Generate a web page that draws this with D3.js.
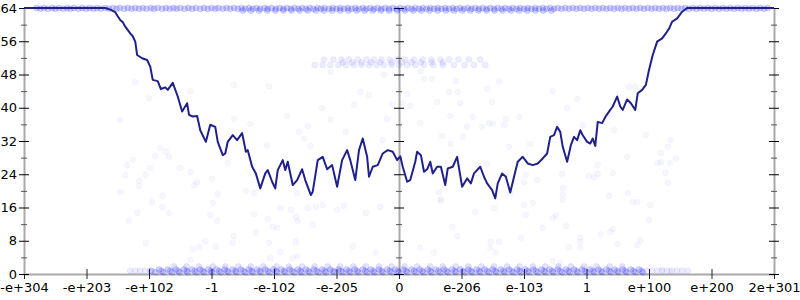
<!DOCTYPE html>
<html>
<head>
<meta charset="utf-8">
<script src="https://cdn.jsdelivr.net/npm/d3@7"></script>
<style>
  body { margin: 0; background: #fff; }
  svg { display: block; }
  .axis text { font-family: 'DejaVu Sans', sans-serif; font-size: 13px; fill: #000; }
  .axis .domain { stroke: #aaa; stroke-width: 2; }
</style>
</head>
<body>
<div id="chart"></div>
<script>
// tick labels along the float ordering (one label per tick slot, -6 .. 6)
const xTickLabels = ['-e+304', '-e+203', '-e+102', '-1', '-e-102', '-e-205', '0',
  'e-206', 'e-103', '1', 'e+100', 'e+200', '2e+301'];
const yMajorTicks = [0, 8, 16, 24, 32, 40, 48, 56, 64];
const yMinorTicks = [4, 12, 20, 28, 36, 44, 52, 60];

// main series: [position, value]
const lineValues = [
  [-6, 64], [-4.70, 64], [-4.62, 63.6], [-4.54, 63.0], [-4.50, 62.0], [-4.46, 61.1], [-4.42, 60.6],
  [-4.38, 59.5], [-4.30, 57.9], [-4.26, 57.2], [-4.22, 55.9], [-4.19, 52.7], [-4.11, 51.9], [-4.03, 51.5],
  [-3.98, 49.9], [-3.94, 46.7], [-3.86, 46.4], [-3.81, 44.5],
  [-3.74, 44.9], [-3.70, 44.3], [-3.62, 46.0], [-3.54, 42.7], [-3.47, 39.1], [-3.39, 41.1], [-3.36, 38.3],
  [-3.30, 37.9], [-3.23, 38.0], [-3.18, 34.6], [-3.09, 31.8], [-3.02, 35.9], [-2.94, 35.4], [-2.90, 31.8],
  [-2.82, 28.6], [-2.78, 29.0], [-2.74, 31.8], [-2.66, 33.4], [-2.59, 32.2], [-2.51, 33.9], [-2.45, 29.4],
  [-2.42, 29.8], [-2.35, 25.8], [-2.29, 24.2], [-2.22, 20.6], [-2.14, 24.2], [-2.10, 25.0], [-2.03, 22.2],
  [-1.98, 20.6], [-1.94, 25.0], [-1.86, 27.4], [-1.82, 25.0], [-1.78, 27.0], [-1.70, 21.4], [-1.63, 22.6],
  [-1.55, 25.2], [-1.50, 22.6], [-1.41, 19.0], [-1.38, 19.8], [-1.30, 27.4], [-1.22, 28.2], [-1.15, 25.2],
  [-1.07, 26.2], [-0.99, 21.0], [-0.91, 27.4], [-0.83, 29.8], [-0.78, 27.4], [-0.70, 22.6], [-0.64, 29.8],
  [-0.58, 32.6], [-0.51, 28.2], [-0.48, 23.4], [-0.42, 25.8], [-0.34, 26.2], [-0.26, 29.0], [-0.18, 29.8],
  [-0.10, 29.4], [-0.03, 27.4], [0.02, 28.3], [0.06, 25.8], [0.13, 22.2], [0.18, 22.6], [0.26, 27.0],
  [0.29, 29.4], [0.35, 28.6], [0.40, 24.6], [0.45, 25.2], [0.50, 27.0], [0.54, 24.2], [0.61, 25.8],
  [0.67, 25.8], [0.74, 21.4], [0.78, 25.4], [0.86, 25.8], [0.93, 28.2], [1.01, 21.0], [1.09, 23.0],
  [1.15, 21.8], [1.20, 24.2], [1.30, 25.8], [1.36, 23.4], [1.41, 21.8], [1.49, 20.2], [1.54, 18.2],
  [1.58, 21.8], [1.65, 24.2], [1.71, 23.4], [1.78, 19.6], [1.86, 24.6], [1.90, 27.0], [1.98, 28.2],
  [2.06, 26.6], [2.14, 26.2], [2.22, 26.6], [2.30, 27.8], [2.37, 29.0], [2.42, 33.0], [2.48, 33.4],
  [2.53, 35.4], [2.58, 34.2], [2.62, 30.6], [2.69, 27.0], [2.75, 31.0], [2.80, 33.0], [2.85, 32.2],
  [2.90, 34.6], [2.94, 33.4], [3.01, 31.8], [3.06, 31.4], [3.10, 32.6], [3.14, 30.8], [3.18, 36.6],
  [3.25, 36.3], [3.31, 38.0], [3.38, 39.5], [3.42, 40.3], [3.49, 42.7], [3.54, 40.3], [3.58, 39.5],
  [3.65, 42.0], [3.71, 41.1], [3.78, 39.5], [3.82, 43.5], [3.89, 44.3], [3.95, 45.5], [4.00, 49.1],
  [4.06, 52.7], [4.13, 55.9], [4.21, 56.7], [4.27, 57.9], [4.32, 59.0], [4.37, 60.7], [4.45, 61.5],
  [4.53, 63.1], [4.61, 64], [6, 64]
];

// scattered samples: [position, value]
const scatterPoints = [
  [-4.22, 46.2], [-4.00, 42.3], [-3.34, 44.0], [-4.46, 37.1], [-4.26, 27.4], [-4.35, 26.2], [-4.38, 23.8],
  [-4.16, 22.4], [-4.16, 21.2], [-4.05, 23.8], [-3.98, 25.5], [-3.90, 28.4], [-3.82, 30.3], [-3.73, 29.4],
  [-3.68, 28.2], [-3.78, 18.8], [-4.45, 19.7], [-3.50, 25.5], [-3.33, 24.5], [-3.23, 22.1], [-3.28, 21.4],
  [-2.99, 22.9], [-2.90, 19.2], [-2.74, 26.7], [-2.64, 37.3], [-2.64, 45.5], [-2.45, 20.0], [-2.32, 19.5],
  [-2.38, 36.1], [-2.11, 31.0], [-2.08, 45.2], [-1.79, 38.0], [-1.60, 34.2], [-1.52, 32.5], [-1.46, 35.6],
  [-1.42, 30.8], [-1.23, 39.9], [-1.09, 37.1], [-1.09, 48.6], [-0.85, 34.2], [-0.72, 40.7], [-0.62, 43.8],
  [-0.48, 43.1], [-0.24, 47.9], [-0.19, 37.3], [-0.26, 32.2], [-0.10, 40.9], [-1.63, 19.5],
  [0.40, 46.9], [0.53, 46.9], [0.35, 48.8], [0.13, 43.3], [0.18, 40.4], [0.06, 41.1], [0.80, 43.8],
  [0.94, 43.8], [0.91, 46.4], [1.60, 46.4], [1.41, 44.5], [0.98, 41.1], [0.61, 41.4], [1.49, 41.4],
  [0.34, 36.3], [0.82, 38.0], [1.18, 37.8], [1.09, 35.4], [1.33, 35.4], [1.44, 36.3], [1.50, 36.1],
  [1.68, 35.8], [1.71, 37.3], [1.92, 37.8], [0.69, 33.2], [0.83, 31.3], [1.02, 33.0], [1.76, 30.6],
  [2.10, 31.3], [2.46, 44.0], [2.85, 42.1], [2.69, 39.9], [2.94, 35.8], [3.44, 34.6], [3.95, 33.4],
  [4.35, 32.2], [4.30, 30.6], [4.19, 29.1], [4.43, 27.7], [4.19, 26.9], [4.14, 26.7], [4.34, 26.7],
  [3.65, 28.2], [3.18, 26.2], [3.42, 24.3], [3.18, 24.1], [3.12, 23.3], [3.04, 23.6], [2.61, 24.1],
  [2.03, 23.8], [2.00, 22.1], [2.21, 22.6], [2.62, 20.7], [2.62, 19.2], [3.36, 18.8], [3.66, 19.5],
  [4.27, 24.3], [4.30, 21.9], [0.64, 19.7], [0.67, 18.0], [1.41, 26.5], [1.78, 19.5], [3.68, 45.0],
  [3.78, 45.0],
  [-3.95, 17.3], [-3.79, 16.1], [-3.68, 14.7], [-4.18, 14.7], [-4.32, 12.8], [-4.05, 7.5], [-3.30, 6.0],
  [-3.34, 3.4], [-3.20, 6.5], [-2.98, 17.1], [-3.02, 14.2], [-2.91, 12.8], [-3.10, 7.9], [-2.93, 6.7],
  [-2.66, 7.5], [-2.64, 9.1], [-2.32, 14.4], [-2.29, 9.9], [-2.10, 13.2], [-2.02, 11.3], [-1.95, 11.1],
  [-2.08, 7.5], [-1.90, 5.3], [-2.06, 3.8], [-1.89, 15.9], [-1.73, 15.4], [-1.65, 13.7], [-1.62, 12.8],
  [-1.65, 7.7], [-1.63, 4.3], [-1.70, 3.8], [-1.46, 15.9], [-1.33, 16.1], [-1.22, 16.6], [-1.38, 11.8],
  [-0.99, 15.4], [-0.88, 16.4], [-0.74, 6.7], [-0.53, 14.7], [-0.30, 16.1], [-0.37, 5.1],
  [0.67, 17.6], [1.22, 14.9], [0.85, 11.3], [0.93, 9.1], [0.34, 6.3], [0.56, 5.1], [1.47, 7.7],
  [1.60, 7.7], [1.46, 6.3], [1.55, 5.1], [1.52, 15.9], [2.00, 16.6], [2.14, 17.1], [2.03, 14.2],
  [2.46, 13.5], [2.51, 14.0], [2.67, 11.5], [2.30, 11.1], [1.95, 8.7], [2.90, 8.7], [2.90, 7.7],
  [2.90, 6.3], [2.72, 6.5], [2.46, 3.1], [2.58, 2.6], [2.62, 17.8], [3.74, 17.3], [4.02, 16.6],
  [3.81, 17.3], [4.00, 13.0], [3.42, 10.8], [3.38, 10.1], [3.23, 9.6], [3.49, 7.2], [3.86, 8.2],
  [3.82, 7.0], [4.21, 1.0], [4.34, 0.7]
];

// dense bands: one row of positions per level, each position stands for `weight` overlapping samples
const bandLevels = [64, 63.8, 63.4, 51.6, 50.9, 50.3, 0.4, 1.1, 1.8, 0.75, 0.8];
const bandWeights = [5, 5, 5, 2, 2, 2, 5, 5, 3, 5, 2];
const bandTop = [-5.8, -5.68, -5.55, -5.44, -5.31, -5.2, -5.07, -4.95, -4.83, -4.7, -4.58, -4.47, -4.34,
  -4.22, -4.1, -3.97, -3.86, -3.73, -3.61, -3.5, -3.37, -3.25, -3.12, -3.0, -2.89, -2.76, -2.64, -2.52,
  -2.4, -2.28, -2.15, -2.04, -1.91, -1.79, -1.67, -1.55, -1.43, -1.3, -1.19, -1.06, -0.94, -0.82, -0.7,
  -0.58, -0.46, -0.34, -0.22, -0.1, 0.02, 0.14, 0.26, 0.38, 0.5, 0.62, 0.74, 0.86, 0.98, 1.1, 1.22,
  1.34, 1.46, 1.58, 1.7, 1.82, 1.94, 2.06, 2.18, 2.3, 2.42, 2.54, 2.66, 2.78, 2.9, 3.02, 3.14, 3.26,
  3.38, 3.5, 3.62, 3.74, 3.86, 3.98, 4.1, 4.22, 4.34, 4.46, 4.58, 4.7, 4.82, 4.94, 5.06, 5.18, 5.3,
  5.42, 5.54, 5.66, 5.78, 5.9];
const bandTopB = [-5.74, -5.62, -5.5, -5.37, -5.26, -5.13, -5.01, -4.89, -4.77, -4.64, -4.52, -4.4,
  -4.28, -4.16, -4.04, -3.92, -3.79, -3.67, -3.56, -3.43, -3.31, -3.18, -3.06, -2.94, -2.82, -2.7,
  -2.58, -2.46, -2.34, -2.22, -2.1, -1.97, -1.85, -1.73, -1.61, -1.49, -1.37, -1.25, -1.12, -1.0,
  -0.88, -0.76, -0.64, -0.52, -0.4, -0.28, -0.16, -0.04, 0.08, 0.2, 0.32, 0.44, 0.56, 0.68, 0.8, 0.92,
  1.04, 1.16, 1.28, 1.4, 1.52, 1.64, 1.76, 1.88, 2.0, 2.12, 2.24, 2.36, 2.48, 2.6, 2.72, 2.84, 2.96,
  3.08, 3.2, 3.32, 3.44, 3.56, 3.68, 3.8, 3.92, 4.04, 4.16, 4.28, 4.4, 4.52, 4.64, 4.76, 4.88, 5.0,
  5.12, 5.24, 5.36, 5.48, 5.6, 5.72, 5.84];
const bandTopCenter = [-2.5, -2.37, -2.24, -2.11, -1.98, -1.85, -1.72, -1.59, -1.46, -1.33, -1.2, -1.07,
  -0.94, -0.81, -0.68, -0.55, -0.42, -0.29, -0.16, -0.03, 0.1, 0.23, 0.36, 0.49, 0.62, 0.75, 0.88, 1.01,
  1.14, 1.27, 1.4, 1.53, 1.66, 1.79, 1.92, 2.05, 2.18, 2.31, 2.44];
const bandMidHigh = [-1.2, -1.05, -0.92, -0.8, -0.66, -0.52, -0.4, -0.28, -0.15, -0.03, 0.1, 0.24,
  0.38, 0.52, 0.66, 0.8, 0.95, 1.12, 1.3];
const bandMidCenter = [-0.9, -0.75, -0.6, -0.45, -0.3, -0.12, 0.05, 0.2, 0.35, 0.52, 0.7];
const bandMidLow = [-1.35, -1.22, -1.1, -0.97, -0.85, -0.72, -0.6, -0.48, -0.36, -0.24, -0.12, 0.0,
  0.13, 0.26, 0.4, 0.55, 0.7, 0.88, 1.05, 1.2, 1.38];
const bandLowA = [-3.9, -3.77, -3.63, -3.51, -3.38, -3.24, -3.12, -2.99, -2.85, -2.73, -2.6, -2.46,
  -2.34, -2.21, -2.07, -1.95, -1.82, -1.68, -1.56, -1.43, -1.29, -1.17, -1.04, -0.9, -0.78, -0.65,
  -0.51, -0.39, -0.26, -0.12, 0.0, 0.13, 0.27, 0.39, 0.52, 0.66, 0.78, 0.91, 1.05, 1.17, 1.3, 1.44,
  1.56, 1.69, 1.83, 1.95, 2.08, 2.22, 2.34, 2.47, 2.61, 2.73, 2.86, 3.0, 3.12, 3.25, 3.39, 3.51, 3.64,
  3.78, 3.9];
const bandLowB = [-3.84, -3.7, -3.57, -3.44, -3.31, -3.18, -3.05, -2.92, -2.79, -2.66, -2.53, -2.4,
  -2.27, -2.14, -2.01, -1.88, -1.75, -1.62, -1.49, -1.36, -1.23, -1.1, -0.97, -0.84, -0.71, -0.58,
  -0.45, -0.32, -0.19, -0.06, 0.07, 0.2, 0.33, 0.46, 0.59, 0.72, 0.85, 0.98, 1.11, 1.24, 1.37, 1.5,
  1.63, 1.76, 1.89, 2.02, 2.15, 2.28, 2.41, 2.54, 2.67, 2.8, 2.93, 3.06, 3.19, 3.32, 3.45, 3.58, 3.71,
  3.84];
const bandLowC = [-3.6, -3.4, -3.2, -2.98, -2.78, -2.57, -2.37, -2.17, -1.96, -1.76, -1.55, -1.35,
  -1.14, -0.94, -0.73, -0.53, -0.32, -0.12, 0.09, 0.29, 0.5, 0.7, 0.91, 1.11, 1.32, 1.52, 1.73, 1.93,
  2.14, 2.34, 2.55, 2.75, 2.96, 3.16, 3.37, 3.57];
const bandLowD = [-3.96, -3.8, -3.66, -3.53, -3.4, -3.27, -3.14, -3.01, -2.88, -2.75, -2.62, -2.49,
  -2.36, -2.23, -2.1, -1.97, -1.84, -1.71, -1.58, -1.45, -1.32, -1.19, -1.06, -0.93, -0.8, -0.67,
  -0.54, -0.41, -0.28, -0.15, -0.02, 0.11, 0.24, 0.37, 0.5, 0.63, 0.76, 0.89, 1.02, 1.15, 1.28, 1.41,
  1.54, 1.67, 1.8, 1.93, 2.06, 2.19, 2.32, 2.45, 2.58, 2.71, 2.84, 2.97, 3.1, 3.23, 3.36, 3.49, 3.62,
  3.75, 3.88];
const bandLowTails = [-4.3, -4.22, -4.14, -4.06, -3.98, 3.97, 4.05, 4.13, 4.21, 4.29, 4.37, 4.45,
  4.53, 4.62];
const bandRows = [bandTop, bandTopB, bandTopCenter, bandMidHigh, bandMidCenter, bandMidLow,
  bandLowA, bandLowB, bandLowC, bandLowD, bandLowTails];

const config = {
  containerWidth: 800,
  containerHeight: 300,
  margin: { top: 8, right: 26, bottom: 26, left: 24 }
};
config.width = config.containerWidth - config.margin.left - config.margin.right;
config.height = config.containerHeight - config.margin.top - config.margin.bottom;

const svg = d3.select('#chart').append('svg')
  .attr('width', config.containerWidth)
  .attr('height', config.containerHeight);

const chart = svg.append('g')
  .attr('transform', `translate(${config.margin.left},${config.margin.top})`);

const xScale = d3.scaleLinear().domain([-6, 6]).range([0, config.width]);
const yScale = d3.scaleLinear().domain([0, 64]).range([config.height, 0]);

// all the faint samples, bands first: [position, value, weight]
const samples = [];
bandRows.forEach((row, i) => row.forEach(x => samples.push([x, bandLevels[i], bandWeights[i]])));
scatterPoints.forEach(p => samples.push([p[0], p[1], 1]));

// opacity of w stacked samples
const fillAlpha = w => 1 - Math.pow(1 - 0.035, w);
const strokeAlpha = w => 1 - Math.pow(1 - 0.025, w);

// vertical axes: left, middle (at 0) and right
function drawVAxis(xPos, labels) {
  const g = chart.append('g')
    .attr('class', 'axis y-axis')
    .attr('transform', `translate(${xPos},0)`);
  g.call(d3.axisLeft(yScale).tickValues(yMinorTicks).tickFormat('').tickSize(3).tickSizeOuter(0))
    .selectAll('.tick line').attr('x1', 3).attr('stroke', '#555');
  const major = chart.append('g')
    .attr('class', 'axis y-axis')
    .attr('transform', `translate(${xPos},0)`)
    .call(d3.axisLeft(yScale).tickValues(yMajorTicks).tickSize(5).tickSizeOuter(0)
      .tickFormat(labels ? d3.format('d') : ''));
  major.select('.domain').remove();
  major.selectAll('.tick line').attr('x1', 5).attr('stroke', '#000');
  major.selectAll('.tick text').attr('x', -7);
}

const xAxisGroup = chart.append('g')
  .attr('class', 'axis x-axis')
  .attr('transform', `translate(0,${config.height})`)
  .call(d3.axisBottom(xScale)
    .tickValues(d3.range(-6, 7))
    .tickFormat((d, i) => xTickLabels[i])
    .tickSize(5)
    .tickSizeOuter(0));
xAxisGroup.selectAll('.tick line').attr('y1', -5).attr('stroke', '#222');
xAxisGroup.selectAll('.tick text').attr('y', 9);

drawVAxis(xScale(0), false);
drawVAxis(xScale(6), false);
drawVAxis(0, true);

chart.append('g')
  .selectAll('circle')
  .data(samples)
  .join('circle')
  .attr('cx', d => xScale(d[0]))
  .attr('cy', d => yScale(d[1]))
  .attr('r', 3)
  .attr('fill', 'blue')
  .attr('fill-opacity', d => fillAlpha(d[2]))
  .attr('stroke', 'blue')
  .attr('stroke-opacity', d => strokeAlpha(d[2]));

const line = d3.line()
  .x(d => xScale(d[0]))
  .y(d => yScale(d[1]));

chart.append('path')
  .datum(lineValues)
  .attr('d', line)
  .attr('fill', 'none')
  .attr('stroke', '#20208c')
  .attr('stroke-width', 2)
  .attr('stroke-linejoin', 'round');
</script>
</body>
</html>
